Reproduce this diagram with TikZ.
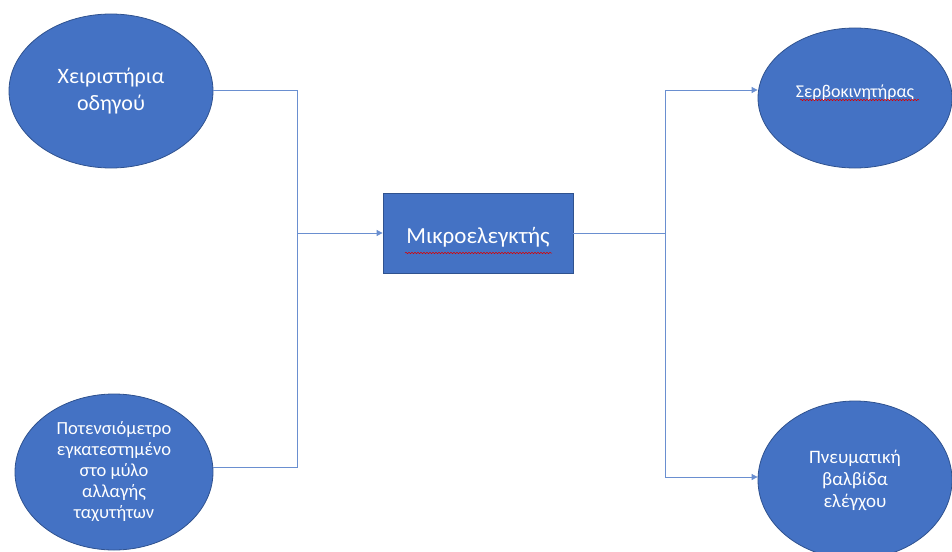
\documentclass[tikz,border=0pt]{standalone}
\usepackage{fontspec}
\setmainfont{Carlito}
\usetikzlibrary{arrows.meta,decorations.pathmorphing,shapes.geometric}
\definecolor{fillblue}{HTML}{4472C4}
\definecolor{edgeblue}{HTML}{2F528F}
\definecolor{lineblue}{HTML}{6A8FD0}
\tikzset{
  blob/.style={ellipse, fill=fillblue, draw=edgeblue, line width=0.8pt, text=white, align=center, inner sep=0pt},
  ctrlbox/.style={rectangle, fill=fillblue, draw=edgeblue, line width=0.8pt, text=white, minimum width=190pt, minimum height=80pt, inner sep=0pt},
  wire/.style={draw=lineblue, line width=0.8pt},
  arrowwire/.style={wire, -{Triangle[length=6pt,width=6pt]}},
  squiggle/.style={draw=red!85!black, line width=0.5pt, decorate, decoration={snake, amplitude=0.7pt, segment length=3pt}}
}
\begin{document}
\begin{tikzpicture}[x=1pt,y=-1pt]
\useasboundingbox (0,0) rectangle (952,551);
\node[blob, minimum width=204pt, minimum height=154pt, font=\fontsize{22}{27}\selectfont] (a) at (111,91) {Χειριστήρια\\οδηγού};
\node[blob, minimum width=198pt, minimum height=156pt, font=\fontsize{18.5}{21}\selectfont] (b) at (114,472) {Ποτενσιόμετρο\\εγκατεστημένο\\στο μύλο\\αλλαγής\\ταχυτήτων};
\node[ctrlbox, font=\fontsize{23}{27}\selectfont, text height=24pt] (m) at (478,233) {Μικροελεγκτής};
\node[blob, minimum width=194pt, minimum height=140pt, font=\fontsize{18}{21}\selectfont, text depth=14pt] (s) at (855,98) {Σερβοκινητήρας};
\node[blob, minimum width=194pt, minimum height=158pt, font=\fontsize{19}{22}\selectfont] (p) at (855,480) {Πνευματική\\βαλβίδα\\ελέγχου};
\coordinate (j1) at (297,233);
\coordinate (j2) at (665,233);
\draw[wire] (a.east |- 0,90) -| (j1);
\draw[wire] (b.east |- 0,467) -| (j1);
\draw[arrowwire] (j1) -- (m.west);
\draw[wire] (m.east) -- (j2);
\draw[arrowwire] (j2) |- (s.west |- 0,90);
\draw[arrowwire] (j2) |- (p.west |- 0,477);
\draw[squiggle] (405,253) -- (552,253);
\draw[squiggle] (800,100) -- (919,100);
\end{tikzpicture}
\end{document}
